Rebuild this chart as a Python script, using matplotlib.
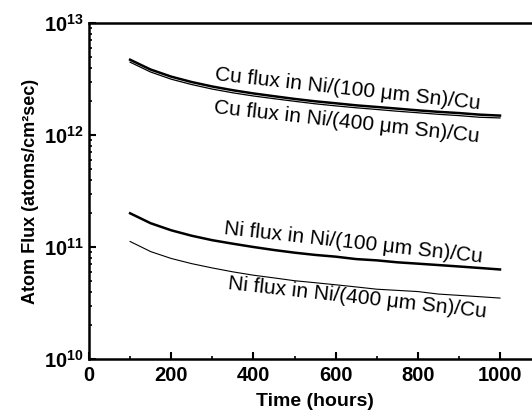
import numpy as np
import matplotlib
matplotlib.use('Agg')
import matplotlib.pyplot as plt
from matplotlib.ticker import LogLocator, MultipleLocator, NullFormatter, FuncFormatter

plt.rcParams['font.family'] = ['Liberation Sans', 'DejaVu Sans']
plt.rcParams['mathtext.fontset'] = 'custom'
plt.rcParams['mathtext.rm'] = 'Liberation Sans:bold'
plt.rcParams['mathtext.bf'] = 'Liberation Sans:bold'

# time in hours
time_h = [100, 150, 200, 250, 300, 350, 400, 450, 500, 550,
          600, 650, 700, 750, 800, 850, 900, 950, 1000]

# atom flux (atoms/cm^2 sec)
cu_100 = [4.70e12, 3.84e12, 3.32e12, 2.97e12, 2.71e12, 2.51e12, 2.35e12, 2.22e12, 2.10e12, 2.00e12,
          1.92e12, 1.84e12, 1.78e12, 1.72e12, 1.66e12, 1.61e12, 1.57e12, 1.52e12, 1.49e12]
cu_400 = [4.47e12, 3.65e12, 3.15e12, 2.82e12, 2.57e12, 2.38e12, 2.23e12, 2.11e12, 2.00e12, 1.90e12,
          1.82e12, 1.75e12, 1.69e12, 1.63e12, 1.58e12, 1.53e12, 1.49e12, 1.44e12, 1.42e12]
ni_100 = [2.00e11, 1.63e11, 1.41e11, 1.26e11, 1.15e11, 1.07e11, 1.00e11, 0.94e11, 0.89e11, 0.85e11,
          0.82e11, 0.78e11, 0.76e11, 0.73e11, 0.71e11, 0.69e11, 0.67e11, 0.65e11, 0.63e11]
ni_400 = [1.12e11, 0.91e11, 0.79e11, 0.71e11, 0.65e11, 0.60e11, 0.56e11, 0.53e11, 0.50e11, 0.48e11,
          0.46e11, 0.44e11, 0.42e11, 0.41e11, 0.40e11, 0.38e11, 0.37e11, 0.36e11, 0.35e11]

labels = ['Cu flux in Ni/(100 \u03bcm Sn)/Cu', 'Cu flux in Ni/(400 \u03bcm Sn)/Cu',
          'Ni flux in Ni/(100 \u03bcm Sn)/Cu', 'Ni flux in Ni/(400 \u03bcm Sn)/Cu']

fig = plt.figure(figsize=(5.32, 4.16), dpi=100)
# axes runs past the right edge of the picture, like the cropped original
ax = fig.add_axes([89 / 532, (416 - 359) / 416, (1100 * 0.411) / 532, 336 / 416])

ax.plot(time_h, cu_100, color='black', lw=1.8)
ax.plot(time_h, cu_400, color='black', lw=0.9)
ax.plot(time_h, ni_100, color='black', lw=1.8)
ax.plot(time_h, ni_400, color='black', lw=0.8)

ax.set_yscale('log')
ax.set_ylim(1e10, 1e13)
ax.set_xlim(0, 1100)

ax.xaxis.set_major_locator(MultipleLocator(200))
ax.xaxis.set_minor_locator(MultipleLocator(100))
ax.yaxis.set_major_locator(LogLocator(base=10, numticks=10))
ax.yaxis.set_minor_locator(LogLocator(base=10, subs=np.arange(2, 10), numticks=10))
ax.yaxis.set_minor_formatter(NullFormatter())
ax.yaxis.set_major_formatter(FuncFormatter(lambda v, p: r'$\mathbf{10^{%d}}$' % round(np.log10(v))))

ax.tick_params(which='both', direction='in', top=False, right=False)
ax.tick_params(which='major', length=5, width=1.5, labelsize=14.5)
ax.tick_params(axis='x', which='major', pad=5)
ax.tick_params(axis='y', which='major', pad=4)
ax.tick_params(which='minor', length=2.5, width=1.2)
for lab in ax.get_xticklabels():
    lab.set_fontweight('bold')

for side in ['left', 'bottom', 'top']:
    ax.spines[side].set_linewidth(1.8)
ax.spines['right'].set_visible(False)

ax.set_xlabel('Time (hours)', fontsize=14, fontweight='bold', labelpad=6)
ax.set_ylabel('Atom Flux (atoms/cm\u00b2sec)', fontsize=13, fontweight='bold', labelpad=3)

text_pos = [(630, 2.57e12), (627, 1.3e12), (644, 1.09e11), (652, 3.55e10)]
for (tx, ty), txt in zip(text_pos, labels):
    ax.text(tx, ty, txt, fontsize=15, rotation=-6.3, ha='center', va='center',
            rotation_mode='anchor')

fig.savefig('out.png', dpi=100)
